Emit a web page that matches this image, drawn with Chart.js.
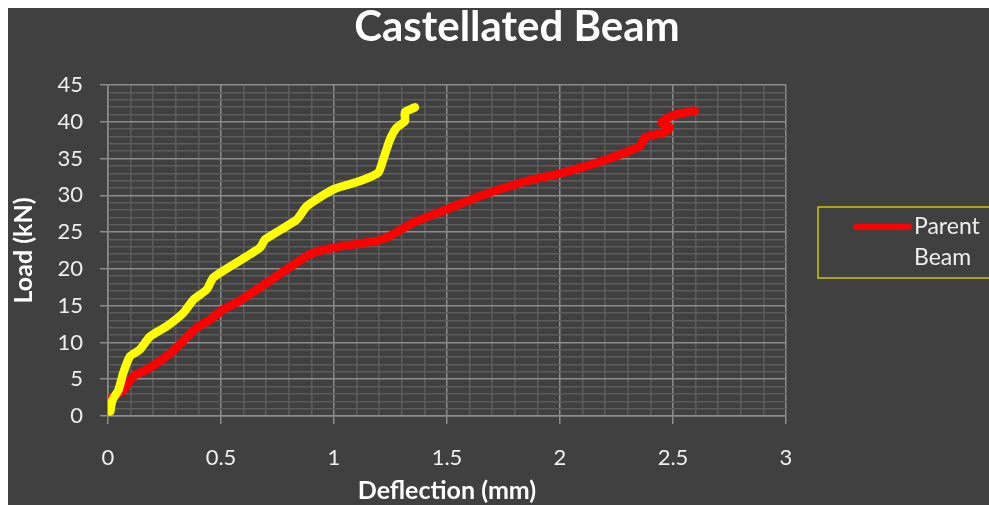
<!DOCTYPE html>
<html>
<head>
<meta charset="utf-8">
<script src="https://cdn.jsdelivr.net/npm/chart.js@4"></script>
<style>
  html, body { margin: 0; padding: 0; background: #fff; }
  #wrap { position: absolute; left: 8px; top: 8px; width: 981px; height: 497px; background: #404040; }
</style>
</head>
<body>
<div id="wrap"><canvas id="myChart" width="981" height="497"></canvas></div>
<script>
// values
const castDeflection = [0.01, 0.02, 0.046, 0.068, 0.097, 0.14, 0.186, 0.26, 0.333, 0.378, 0.437, 0.466, 0.555, 0.673, 0.695, 0.835, 0.879, 0.997, 1.115, 1.196, 1.218, 1.248, 1.277, 1.314, 1.314, 1.358];
const castLoad = [0.6, 2.2, 3.5, 5.9, 8.1, 9.0, 10.8, 12.2, 14.0, 15.8, 17.2, 18.8, 20.6, 22.9, 24.0, 26.7, 28.5, 30.8, 31.95, 33.1, 34.9, 37.6, 39.2, 40.1, 41.3, 41.96];

const parentDeflection = [0.01, 0.068, 0.112, 0.171, 0.274, 0.392, 0.451, 0.51, 0.569, 0.702, 0.894, 0.997, 1.189, 1.248, 1.351, 1.499, 1.646, 1.853, 2.015, 2.19, 2.354, 2.376, 2.457, 2.487, 2.45, 2.5, 2.597];
const parentLoad = [2.4, 3.5, 5.4, 6.3, 8.5, 12.0, 13.1, 14.5, 15.4, 18.1, 22.0, 22.9, 23.8, 24.5, 26.3, 28.1, 29.9, 31.95, 33.1, 34.7, 36.7, 37.9, 38.5, 39.2, 39.9, 40.9, 41.5];

const xMin = 0, xMax = 3, xStep = 0.1, xLabelStep = 0.5;
const yMin = 0, yMax = 45, yStep = 1, yLabelStep = 5;

const toPoints = (xs, ys) => xs.map((x, i) => ({ x: x, y: ys[i] }));
const isMajor = (v, step) => Math.abs(v / step - Math.round(v / step)) < 1e-6;

const majorColor = '#8c8c8c';
const minorColor = '#5c5c5c';
const textColor = '#eeeeee';

// title and the cut-off legend box
const extras = {
  id: 'extras',
  afterDraw(chart) {
    const ctx = chart.ctx;
    ctx.save();
    ctx.fillStyle = '#ffffff';
    ctx.font = 'bold 42px Lato';
    ctx.textAlign = 'center';
    ctx.textBaseline = 'alphabetic';
    ctx.fillText('Castellated Beam', 509, 33);

    // legend
    ctx.strokeStyle = '#c8c800';
    ctx.lineWidth = 1.5;
    ctx.strokeRect(810, 199, 200, 71);
    const ds = chart.data.datasets.find(d => d.label === 'Parent Beam');
    ctx.strokeStyle = ds.borderColor;
    ctx.lineWidth = 6;
    ctx.lineCap = 'round';
    ctx.beginPath();
    ctx.moveTo(848, 219);
    ctx.lineTo(901, 219);
    ctx.stroke();
    ctx.fillStyle = textColor;
    ctx.font = '23px Lato';
    ctx.textAlign = 'left';
    ctx.textBaseline = 'middle';
    const words = ds.label.split(' ');
    ctx.fillText(words[0], 906, 219);
    ctx.fillText(words[1], 906, 250);
    ctx.restore();
  }
};

new Chart('myChart', {
  type: 'scatter',
  data: {
    datasets: [
      {
        label: 'Castellated Beam',
        data: toPoints(castDeflection, castLoad),
        borderColor: '#ffff00',
        backgroundColor: '#ffff00'
      },
      {
        label: 'Parent Beam',
        data: toPoints(parentDeflection, parentLoad),
        borderColor: '#ff0000',
        backgroundColor: '#ff0000'
      }
    ]
  },
  options: {
    responsive: false,
    animation: false,
    showLine: true,
    layout: { padding: { top: 77, right: 203, left: 0, bottom: 0 } },
    elements: {
      point: { radius: 0, hoverRadius: 0 },
      line: { borderWidth: 8.5, tension: 0.2, borderCapStyle: 'round', borderJoinStyle: 'round' }
    },
    plugins: {
      legend: { display: false },
      title: { display: false },
      tooltip: { enabled: false }
    },
    scales: {
      x: {
        type: 'linear',
        min: xMin, max: xMax,
        afterFit: s => { s.height = 89; },
        ticks: {
          stepSize: xStep,
          autoSkip: false,
          maxRotation: 0,
          padding: 21,
          color: textColor,
          font: { family: 'Lato', size: 22 },
          callback: v => isMajor(v, xLabelStep) ? String(+v.toFixed(1)) : ''
        },
        grid: {
          color: c => isMajor(c.tick.value, xLabelStep) ? majorColor : minorColor,
          tickColor: c => isMajor(c.tick.value, xLabelStep) ? majorColor : 'rgba(0,0,0,0)',
          tickLength: 8,
          lineWidth: 1.5
        },
        border: { color: majorColor, width: 1.5 },
        title: {
          display: true,
          text: 'Deflection (mm)',
          color: '#ffffff',
          font: { family: 'Lato', size: 25, weight: 'bold' },
          padding: { top: 0, bottom: -1 }
        }
      },
      y: {
        min: yMin, max: yMax,
        afterFit: s => { s.width = 100; },
        ticks: {
          stepSize: yStep,
          autoSkip: false,
          padding: 17,
          color: textColor,
          font: { family: 'Lato', size: 22 },
          callback: v => isMajor(v, yLabelStep) ? String(v) : ''
        },
        grid: {
          color: c => isMajor(c.tick.value, yLabelStep) ? majorColor : minorColor,
          tickColor: c => isMajor(c.tick.value, yLabelStep) ? majorColor : 'rgba(0,0,0,0)',
          tickLength: 8,
          lineWidth: 1.5
        },
        border: { color: majorColor, width: 1.5 },
        title: {
          display: true,
          text: 'Load (kN)',
          color: '#ffffff',
          font: { family: 'Lato', size: 25, weight: 'bold' },
          padding: { top: 1, bottom: 0 }
        }
      }
    }
  },
  plugins: [extras]
});
</script>
</body>
</html>
